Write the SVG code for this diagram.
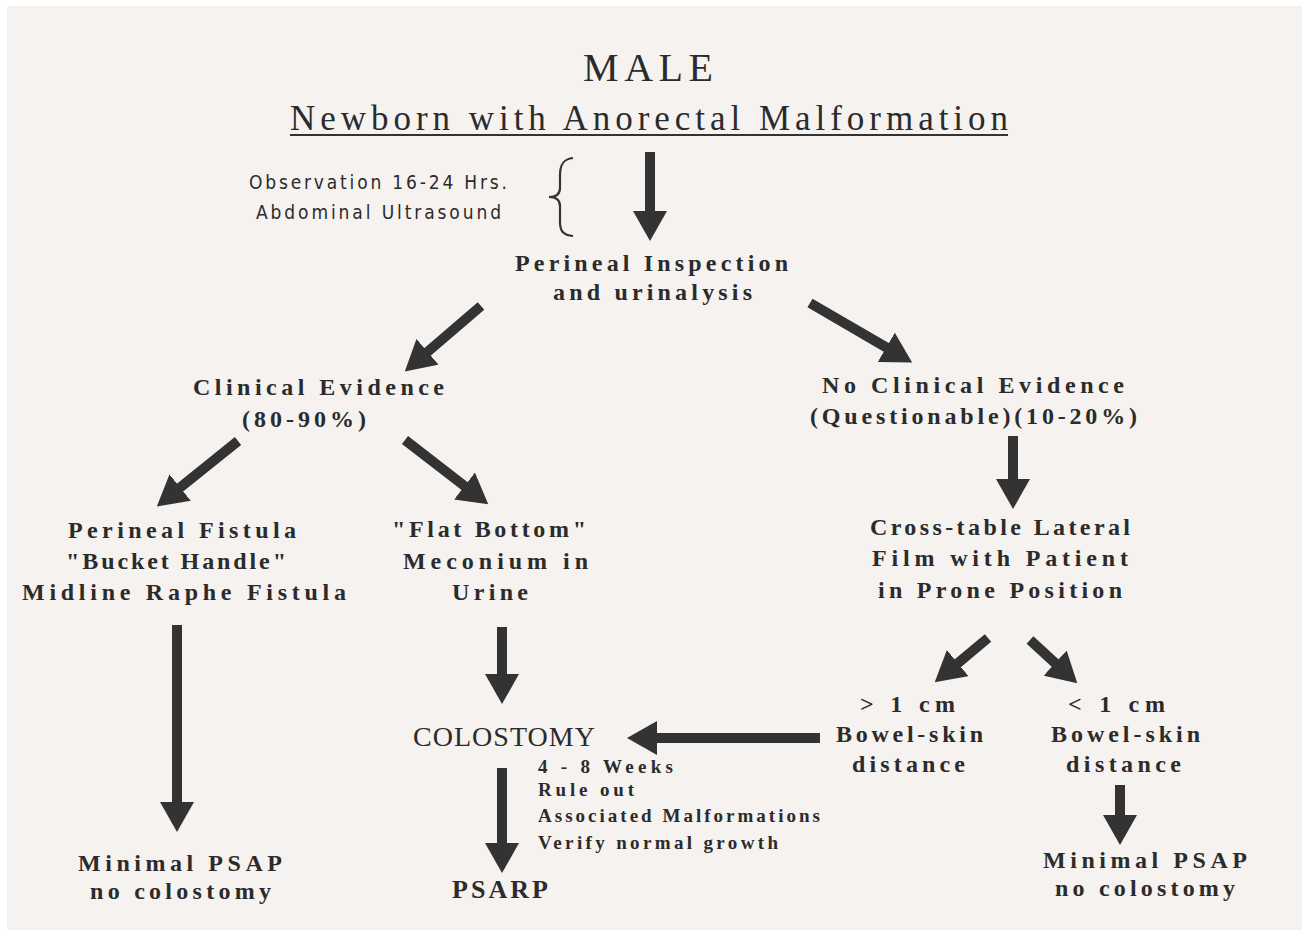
<svg xmlns="http://www.w3.org/2000/svg" width="1302" height="930" viewBox="0 0 1302 930">
<defs>
<style>
.bg{fill:#ffffff}
.paper{fill:#f5f2ef}
text{fill:#2b2b2b;font-family:"Liberation Serif","Times New Roman",serif}
.t{font-size:24px;font-weight:bold;text-anchor:middle}
.title{font-size:40px;text-anchor:middle}
.sub{font-size:35px;text-anchor:middle}
.obs{font-family:"Liberation Sans Narrow","DejaVu Sans Condensed","Liberation Sans",sans-serif;font-size:19px}
.note{font-size:19px;font-weight:bold}
.col{font-size:28px;text-anchor:middle}
.psarp{font-size:26px;font-weight:bold;text-anchor:middle}
.ar{stroke:#333;stroke-width:10;fill:none;marker-end:url(#head)}
.ln{stroke:#333;fill:none}
</style>
<marker id="head" markerUnits="userSpaceOnUse" viewBox="0 0 30 34" markerWidth="30" markerHeight="34" refX="1" refY="17" orient="auto">
<path d="M0,0 L30,17 L0,34 z" fill="#333"/>
</marker>
</defs>
<rect class="bg" x="0" y="0" width="1302" height="930"/>
<rect class="paper" x="7" y="6" width="1295" height="924"/>

<g id="title">
<text class="title" x="648" y="81" textLength="130" lengthAdjust="spacing">MALE</text>
<text class="sub" x="649" y="130" textLength="718" lengthAdjust="spacing">Newborn with Anorectal Malformation</text>
<line class="ln" x1="290" y1="135" x2="1008" y2="135" stroke-width="2"/>
</g>

<g id="observation">
<text class="obs" x="249" y="189" textLength="258" lengthAdjust="spacing">Observation 16-24 Hrs.</text>
<text class="obs" x="256" y="219" textLength="245" lengthAdjust="spacing">Abdominal Ultrasound</text>
<path class="ln" stroke-width="2.2" d="M573,158 C563,159 560,165 560,175 L560,188 C560,194 556,197 549,197 C556,197 560,200 560,206 L560,222 C560,231 563,235 573,236"/>
</g>

<g id="inspection">
<text class="t" x="651.5" y="271" textLength="273" lengthAdjust="spacing">Perineal Inspection</text>
<text class="t" x="652.5" y="300" textLength="199" lengthAdjust="spacing">and urinalysis</text>
</g>

<g id="clinical">
<text class="t" x="318.5" y="395" textLength="251" lengthAdjust="spacing">Clinical Evidence</text>
<text class="t" x="304" y="427" textLength="124" lengthAdjust="spacing">(80-90%)</text>
</g>

<g id="noclinical">
<text class="t" x="973" y="393" textLength="302" lengthAdjust="spacing">No Clinical Evidence</text>
<text class="t" x="973.5" y="424" textLength="327" lengthAdjust="spacing">(Questionable)(10-20%)</text>
</g>

<g id="fistula">
<text class="t" x="182" y="538" textLength="228" lengthAdjust="spacing">Perineal Fistula</text>
<text class="t" x="176" y="569" textLength="220" lengthAdjust="spacing">"Bucket Handle"</text>
<text class="t" x="184" y="600" textLength="324" lengthAdjust="spacing">Midline Raphe Fistula</text>
</g>

<g id="flatbottom">
<text class="t" x="489" y="537" textLength="194" lengthAdjust="spacing">"Flat Bottom"</text>
<text class="t" x="495.5" y="569" textLength="185" lengthAdjust="spacing">Meconium in</text>
<text class="t" x="490" y="600" textLength="76" lengthAdjust="spacing">Urine</text>
</g>

<g id="crosstable">
<text class="t" x="1000" y="535" textLength="260" lengthAdjust="spacing">Cross-table Lateral</text>
<text class="t" x="1000" y="566" textLength="256" lengthAdjust="spacing">Film with Patient</text>
<text class="t" x="1000" y="598" textLength="244" lengthAdjust="spacing">in Prone Position</text>
</g>

<g id="gt1cm">
<text class="t" x="907.5" y="712" textLength="95" lengthAdjust="spacing">&gt; 1 cm</text>
<text class="t" x="909.5" y="742" textLength="147" lengthAdjust="spacing">Bowel-skin</text>
<text class="t" x="908.5" y="772" textLength="113" lengthAdjust="spacing">distance</text>
</g>

<g id="lt1cm">
<text class="t" x="1116.5" y="712" textLength="97" lengthAdjust="spacing">&lt; 1 cm</text>
<text class="t" x="1125.5" y="742" textLength="149" lengthAdjust="spacing">Bowel-skin</text>
<text class="t" x="1123.5" y="772" textLength="115" lengthAdjust="spacing">distance</text>
</g>

<g id="colostomy">
<text class="col" x="504" y="746" textLength="182" lengthAdjust="spacing">COLOSTOMY</text>
</g>

<g id="colostomy-note">
<text class="note" x="538" y="773" textLength="135" lengthAdjust="spacing">4 - 8 Weeks</text>
<text class="note" x="538" y="796" textLength="96" lengthAdjust="spacing">Rule out</text>
<text class="note" x="538" y="822" textLength="282" lengthAdjust="spacing">Associated Malformations</text>
<text class="note" x="538" y="849" textLength="240" lengthAdjust="spacing">Verify normal growth</text>
</g>

<g id="psarp">
<text class="psarp" x="500" y="898" textLength="96" lengthAdjust="spacing">PSARP</text>
</g>

<g id="minimal-left">
<text class="t" x="180" y="871" textLength="204" lengthAdjust="spacing">Minimal PSAP</text>
<text class="t" x="180.5" y="899" textLength="181" lengthAdjust="spacing">no colostomy</text>
</g>

<g id="minimal-right">
<text class="t" x="1145" y="868" textLength="204" lengthAdjust="spacing">Minimal PSAP</text>
<text class="t" x="1145" y="896" textLength="180" lengthAdjust="spacing">no colostomy</text>
</g>

<g id="connectors">
<line class="ar" x1="650" y1="152" x2="650" y2="212"/>
<line class="ar" x1="481" y1="306" x2="426.8" y2="352.5"/>
<line class="ar" x1="810" y1="303" x2="887.1" y2="347.9"/>
<line class="ar" x1="238" y1="441" x2="179.4" y2="488.2"/>
<line class="ar" x1="405" y1="440" x2="465.3" y2="486.6"/>
<line class="ar" x1="1013" y1="436" x2="1013" y2="480"/>
<line class="ar" x1="177" y1="625" x2="177" y2="803"/>
<line class="ar" x1="502" y1="627" x2="502" y2="675"/>
<line class="ar" x1="988" y1="638" x2="957" y2="663.8"/>
<line class="ar" x1="1030" y1="640" x2="1055.9" y2="663.7"/>
<line class="ar" x1="820" y1="738" x2="656" y2="738"/>
<line class="ar" x1="502" y1="768" x2="502" y2="844"/>
<line class="ar" x1="1120" y1="785" x2="1120" y2="816"/>
</g>
</svg>
